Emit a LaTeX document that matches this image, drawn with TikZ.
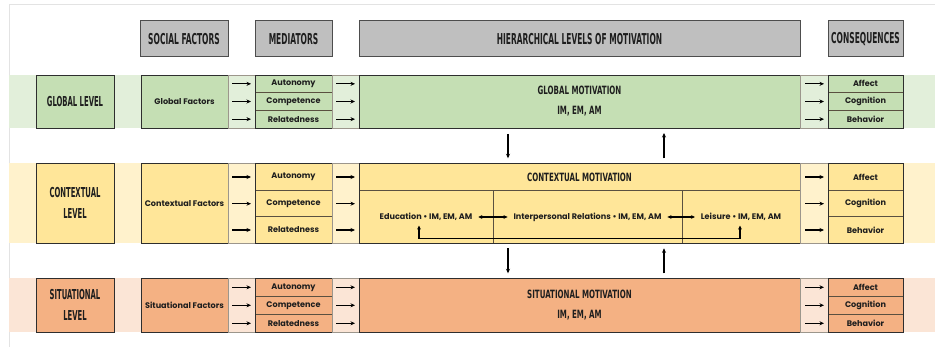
\documentclass[tikz,border=0pt]{standalone}
\usepackage{fontspec}
\setmainfont{Poppins}
\newfontfamily\hfam[FakeStretch=0.5]{DejaVu Sans}
\newfontfamily\mfam[FakeStretch=0.62]{DejaVu Sans}
\usetikzlibrary{calc,arrows.meta}
\definecolor{gbox}{HTML}{C5DFB4}
\definecolor{gband}{HTML}{E2EFDA}
\definecolor{ybox}{HTML}{FFE699}
\definecolor{yband}{HTML}{FFF2CC}
\definecolor{obox}{HTML}{F4B183}
\definecolor{oband}{HTML}{FBE5D6}
\definecolor{hgray}{HTML}{BFBFBF}
\definecolor{edge}{HTML}{2E2E2E}
\definecolor{divc}{HTML}{5A5040}
\definecolor{framec}{HTML}{E3E3E3}
\definecolor{txt}{HTML}{1E1E1E}
\newcommand\bx[7]{\node[#6,minimum width={(#4)-(#2)},minimum height={(#5)-(#3)}] (#1) at ({((#2)+(#4))/2},{((#3)+(#5))/2}) {#7};}
\newcommand\hdrf{\hfam\bfseries\fontsize{15}{15}\selectfont}
\newcommand\lvlf{\hfam\bfseries\fontsize{13.7}{21}\selectfont}
\newcommand\motf{\mfam\bfseries\fontsize{11.4}{20}\selectfont}
\newcommand\bodyf{\bfseries\fontsize{8.1}{9}\selectfont}
\begin{document}
\begin{tikzpicture}[x=1pt,y=-1pt,
  every node/.style={inner sep=0pt,outer sep=0pt,text=txt},
  hdrbox/.style={draw=edge!85,line width=1pt,fill=hgray,font=\hdrf},
  cell/.style={draw=edge,line width=0.8pt,font=\bodyf},
  sub/.style={draw=divc,line width=0.6pt,font=\bodyf},
  acol/.style={draw=divc!60,line width=0.5pt},
  lvl/.style={draw=edge,line width=0.8pt,font=\lvlf,align=center},
  mot/.style={draw=edge,line width=0.8pt,font=\motf,align=center},
  arr/.style={-{Stealth[length=4.5pt,width=4pt]},line width=1.2pt,draw=black},
  darr/.style={{Stealth[length=4pt,width=3.8pt]}-{Stealth[length=4pt,width=3.8pt]},line width=1.2pt,draw=black},
  tx/.style={font=\bodyf}]
\useasboundingbox (0,0) rectangle (935,347);
\fill[white] (0,0) rectangle (935,347);
\draw[framec,line width=0.8pt] (9,347) -- (9,4) -- (935,4);
% bands
\fill[gband] (9,75) rectangle (935,128);
\fill[yband] (9,163.3) rectangle (935,243.3);
\fill[oband] (9,278.3) rectangle (935,332.3);
% headers
\bx{hs}{140}{21}{228}{57}{hdrbox}{SOCIAL FACTORS}
\bx{hm}{255}{21}{332}{57}{hdrbox}{MEDIATORS}
\bx{hh}{359}{21}{800}{57}{hdrbox}{HIERARCHICAL LEVELS OF MOTIVATION}
\bx{hc}{828}{21}{903}{57}{hdrbox}{CONSEQUENCES}
% ---------------- global
\bx{gl}{36}{75}{114}{128}{lvl,fill=gbox}{GLOBAL LEVEL}
\bx{gf}{141}{75}{228}{128}{cell,fill=gbox}{Global Factors}
\bx{ga1}{228}{75}{255}{128}{acol,fill=gband}{}
\bx{gma}{255}{75}{332}{92.67}{sub,fill=gbox}{Autonomy}
\bx{gmc}{255}{92.67}{332}{110.33}{sub,fill=gbox}{Competence}
\bx{gmr}{255}{110.33}{332}{128}{sub,fill=gbox}{Relatedness}
\draw[edge,line width=0.8pt] (gma.north west) rectangle (gmr.south east);
\bx{ga2}{332}{75}{359}{128}{acol,fill=gband}{}
\bx{gm}{359}{75}{800}{128}{mot,fill=gbox}{\raisebox{-2pt}{\parbox{200pt}{\centering GLOBAL MOTIVATION\\IM, EM, AM}}}
\bx{ga3}{800}{75}{828}{128}{acol,fill=gband}{}
\bx{gca}{828}{75}{903}{92.67}{sub,fill=gbox}{Affect}
\bx{gcc}{828}{92.67}{903}{110.33}{sub,fill=gbox}{Cognition}
\bx{gcb}{828}{110.33}{903}{128}{sub,fill=gbox}{Behavior}
\draw[edge,line width=0.8pt] (gca.north west) rectangle (gcb.south east);
\foreach \m in {gma,gmc,gmr}{\draw[arr] ($(gf.east|-\m.center)+(4,0)$) -- ($(\m.west)+(-4,0)$);
  \draw[arr] ($(\m.east)+(4,0)$) -- ($(gm.west|-\m.center)+(-4,0)$);}
\foreach \c in {gca,gcc,gcb}{\draw[arr] ($(gm.east|-\c.center)+(5,0)$) -- ($(\c.west)+(-4,0)$);}
% ---------------- contextual
\bx{cl}{36}{163.3}{114}{243.3}{lvl,fill=ybox}{\parbox{70pt}{\centering CONTEXTUAL\\LEVEL}}
\bx{cf}{141}{163.3}{228}{243.3}{cell,fill=ybox}{Contextual Factors}
\bx{ca1}{228}{163.3}{255}{243.3}{acol,fill=yband}{}
\bx{cma}{255}{163.3}{332}{190.7}{sub,fill=ybox}{Autonomy}
\bx{cmc}{255}{190.7}{332}{216.7}{sub,fill=ybox}{Competence}
\bx{cmr}{255}{216.7}{332}{243.3}{sub,fill=ybox}{Relatedness}
\draw[edge,line width=0.8pt] (cma.north west) rectangle (cmr.south east);
\bx{ca2}{332}{163.3}{359}{243.3}{acol,fill=yband}{}
\bx{cm}{359}{163.3}{800}{243.3}{cell,fill=ybox}{}
\bx{ct}{359}{163.3}{800}{190.7}{sub,font=\motf}{CONTEXTUAL MOTIVATION}
\bx{ce}{359}{190.7}{493}{243.3}{sub}{}
\bx{ci}{493}{190.7}{682}{243.3}{sub}{}
\bx{cle}{682}{190.7}{800}{243.3}{sub}{}
\draw[edge,line width=0.8pt] (cm.north west) rectangle (cm.south east);
\node[tx] (et) at ($(ce.center)+(0,0)$) {Education • IM, EM, AM};
\node[tx] (it) at ($(ci.center)+(0,0)$) {Interpersonal Relations • IM, EM, AM};
\node[tx] (lt) at ($(cle.center)+(0,0)$) {Leisure • IM, EM, AM};
\bx{ca3}{800}{163.3}{828}{243.3}{acol,fill=yband}{}
\bx{cca}{828}{163.3}{903}{190.7}{sub,fill=ybox}{Affect}
\bx{ccc}{828}{190.7}{903}{216.7}{sub,fill=ybox}{Cognition}
\bx{ccb}{828}{216.7}{903}{243.3}{sub,fill=ybox}{Behavior}
\draw[edge,line width=0.8pt] (cca.north west) rectangle (ccb.south east);
\foreach \m in {cma,cmc,cmr}{\draw[arr] ($(cf.east|-\m.center)+(4,0)$) -- ($(\m.west)+(-4,0)$);
  \draw[arr] ($(\m.east)+(4,0)$) -- ($(cm.west|-\m.center)+(-4,0)$);}
\foreach \c in {cca,ccc,ccb}{\draw[arr] ($(cm.east|-\c.center)+(5,0)$) -- ($(\c.west)+(-4,0)$);}
\draw[darr] ($(et.east)+(6,0)$) -- ($(it.west)+(-6,0)$);
\draw[darr] ($(it.east)+(6,0)$) -- ($(lt.west)+(-6,0)$);
\draw[darr] ($(ce.center)+(-7,8.5)$) -- ($(ce.south)+(-7,-4.5)$) -| ($(cle.center)+(-1,8.5)$);
% ---------------- situational
\bx{sl}{36}{278.3}{114}{332.3}{lvl,fill=obox}{\parbox{70pt}{\centering SITUATIONAL\\LEVEL}}
\bx{sf}{141}{278.3}{228}{332.3}{cell,fill=obox}{Situational Factors}
\bx{sa1}{228}{278.3}{255}{332.3}{acol,fill=oband}{}
\bx{sma}{255}{278.3}{332}{296.3}{sub,fill=obox}{Autonomy}
\bx{smc}{255}{296.3}{332}{314.3}{sub,fill=obox}{Competence}
\bx{smr}{255}{314.3}{332}{332.3}{sub,fill=obox}{Relatedness}
\draw[edge,line width=0.8pt] (sma.north west) rectangle (smr.south east);
\bx{sa2}{332}{278.3}{359}{332.3}{acol,fill=oband}{}
\bx{sm}{359}{278.3}{800}{332.3}{mot,fill=obox}{\raisebox{-2pt}{\parbox{200pt}{\centering SITUATIONAL MOTIVATION\\IM, EM, AM}}}
\bx{sa3}{800}{278.3}{828}{332.3}{acol,fill=oband}{}
\bx{sca}{828}{278.3}{903}{296.3}{sub,fill=obox}{Affect}
\bx{scc}{828}{296.3}{903}{314.3}{sub,fill=obox}{Cognition}
\bx{scb}{828}{314.3}{903}{332.3}{sub,fill=obox}{Behavior}
\draw[edge,line width=0.8pt] (sca.north west) rectangle (scb.south east);
\foreach \m in {sma,smc,smr}{\draw[arr] ($(sf.east|-\m.center)+(4,0)$) -- ($(\m.west)+(-4,0)$);
  \draw[arr] ($(\m.east)+(4,0)$) -- ($(sm.west|-\m.center)+(-4,0)$);}
\foreach \c in {sca,scc,scb}{\draw[arr] ($(sm.east|-\c.center)+(5,0)$) -- ($(\c.west)+(-4,0)$);}
% ---------------- level arrows
\draw[arr] ($(gm.south)+(-71.5,6)$) -- ($(cm.north)+(-71.5,-5)$);
\draw[arr] ($(cm.north)+(84.5,-5)$) -- ($(gm.south)+(84.5,5)$);
\draw[arr] ($(cm.south)+(-71.5,5)$) -- ($(sm.north)+(-71.5,-5)$);
\draw[arr] ($(sm.north)+(84.5,-5)$) -- ($(cm.south)+(84.5,5)$);
\end{tikzpicture}
\end{document}
